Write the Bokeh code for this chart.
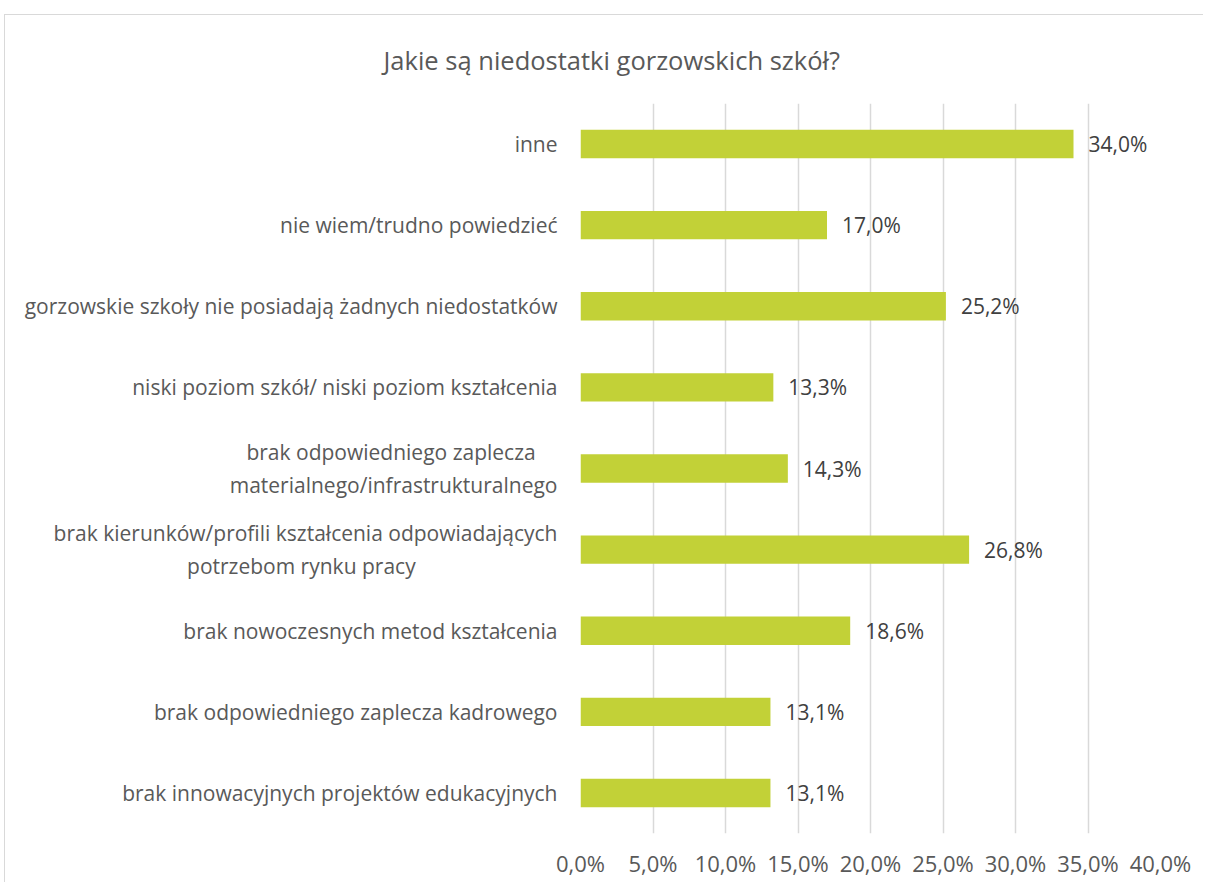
from bokeh.plotting import figure
from bokeh.models import ColumnDataSource, FactorRange, FixedTicker, LabelSet, Title
from bokeh.core.properties import value
from bokeh.embed import file_html
from bokeh.resources import INLINE

NB = "\u00a0"
categories = [
    "brak innowacyjnych projektów edukacyjnych",
    "brak odpowiedniego zaplecza kadrowego",
    "brak nowoczesnych metod kształcenia",
    "brak kierunków/profili kształcenia odpowiadających\npotrzebom rynku pracy" + NB * 26,
    "brak odpowiedniego zaplecza" + NB * 4 + "\nmaterialnego/infrastrukturalnego",
    "niski poziom szkół/ niski poziom kształcenia",
    "gorzowskie szkoły nie posiadają żadnych niedostatków",
    "nie wiem/trudno powiedzieć",
    "inne",
]
values = [13.1, 13.1, 18.6, 26.8, 14.3, 13.3, 25.2, 17.0, 34.0]
value_labels = ["13,1%", "13,1%", "18,6%", "26,8%", "14,3%", "13,3%", "25,2%", "17,0%", "34,0%"]
x_ticks = [0, 5, 10, 15, 20, 25, 30, 35, 40]
x_tick_labels = ["0,0%", "5,0%", "10,0%", "15,0%", "20,0%", "25,0%", "30,0%", "35,0%", "40,0%"]
title_text = "Jakie są niedostatki gorzowskich szkół?"

FONT = "Open Sans"
TXT = "#595959"

src = ColumnDataSource(dict(cat=categories, val=values, lab=value_labels))

p = figure(width=1199, height=868, y_range=FactorRange(factors=categories),
           x_range=(0, 40), output_backend="svg", toolbar_location=None,
           min_border_left=575, min_border_right=44, min_border_top=88,
           min_border_bottom=50, outline_line_color=None,
           styles={"border-top": "1px solid #d9d9d9", "border-left": "1px solid #d9d9d9"})
p.margin = (14, 0, 0, 4)

p.hbar(y="cat", right="val", left=0, height=0.35, source=src,
       color="#C2D137", line_color=None)

p.add_layout(LabelSet(x="val", y="cat", text="lab", source=src, x_offset=15,
                      text_baseline="middle", text_font=value(FONT),
                      text_font_size="21px", text_color="#404040"))

p.xaxis.ticker = FixedTicker(ticks=x_ticks)
p.xaxis.major_label_overrides = {t: l for t, l in zip(x_ticks, x_tick_labels)}
for ax in (p.xaxis[0], p.yaxis[0]):
    ax.axis_line_color = None
    ax.major_tick_line_color = None
    ax.minor_tick_line_color = None
    ax.major_label_text_font = FONT
    ax.major_label_text_font_size = "21px"
    ax.major_label_text_color = TXT
p.xaxis.major_label_text_font_size = "22px"
p.xaxis.major_label_standoff = 8
p.yaxis.major_label_standoff = 17

p.xgrid.grid_line_color = "#d9d9d9"
p.xgrid.grid_line_width = 1.5
p.ygrid.grid_line_color = None

p.add_layout(Title(text=title_text, align="left", offset=-197, standoff=51,
                   vertical_align="middle",
                   text_font=FONT, text_font_size="25.5px", text_color=TXT,
                   text_font_style="normal"), "above")

open("out.html", "w").write(file_html(p, INLINE))
